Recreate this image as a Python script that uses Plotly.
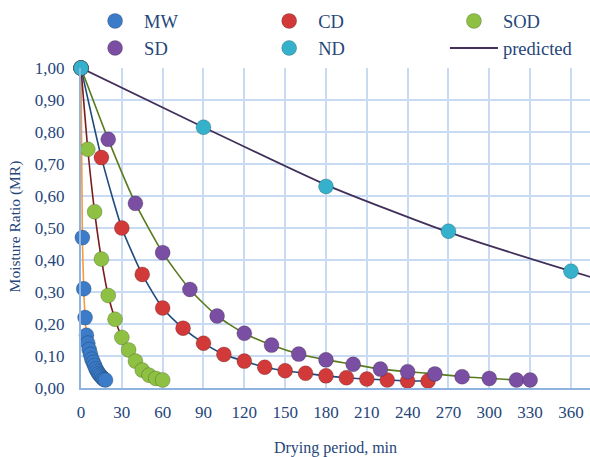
import plotly.graph_objects as go

# ---- data ----
mw_t = [0, 1, 2, 3, 4, 5, 6, 7, 8, 9, 10, 11, 12, 13, 14, 15, 16, 17, 18]
mw_mr = [1.0, 0.47, 0.31, 0.22, 0.165, 0.14, 0.12, 0.105, 0.09, 0.08, 0.07, 0.06,
         0.052, 0.045, 0.04, 0.035, 0.03, 0.027, 0.025]

cd_t = [0, 15, 30, 45, 60, 75, 90, 105, 120, 135, 150, 165, 180, 195, 210, 225, 240, 255]
cd_mr = [1.0, 0.72, 0.50, 0.355, 0.25, 0.187, 0.14, 0.105, 0.084, 0.065, 0.054, 0.046,
         0.038, 0.032, 0.028, 0.025, 0.022, 0.022]

sod_t = [0, 5, 10, 15, 20, 25, 30, 35, 40, 45, 50, 55, 60]
sod_mr = [1.0, 0.746, 0.551, 0.403, 0.289, 0.215, 0.158, 0.119, 0.084, 0.056, 0.04,
          0.03, 0.025]

sd_t = [0, 20, 40, 60, 80, 100, 120, 140, 160, 180, 200, 220, 240, 260, 280, 300, 320, 330]
sd_mr = [1.0, 0.777, 0.577, 0.423, 0.308, 0.225, 0.171, 0.134, 0.106, 0.088, 0.074,
         0.059, 0.051, 0.044, 0.035, 0.030, 0.025, 0.025]

nd_t = [0, 90, 180, 270, 360]
nd_mr = [1.0, 0.815, 0.63, 0.49, 0.365]

nd_pred_t = [0, 90, 180, 270, 360, 376]
nd_pred_mr = [1.0, 0.815, 0.635, 0.487, 0.365, 0.345]

x_ticks = [0, 30, 60, 90, 120, 150, 180, 210, 240, 270, 300, 330, 360]
y_ticks = [0.0, 0.1, 0.2, 0.3, 0.4, 0.5, 0.6, 0.7, 0.8, 0.9, 1.0]
y_ticktext = ["0,00", "0,10", "0,20", "0,30", "0,40", "0,50", "0,60", "0,70",
              "0,80", "0,90", "1,00"]

# ---- styles ----
FONT = "Liberation Serif"
TXT = "#25467a"
GRID = "#c9dbf2"
AXIS = "#8fb3e0"

series = [
    ("MW", mw_t, mw_mr, "#3b7bc8", "#f59a3e", "legend", 1),
    ("CD", cd_t, cd_mr, "#d23a3a", "#1f4a7d", "legend2", 1),
    ("SOD", sod_t, sod_mr, "#8dc043", "#7a1c1c", "legend3", 1),
    ("SD", sd_t, sd_mr, "#7a4fa3", "#5a7a1e", "legend", 2),
]

fig = go.Figure()

# predicted lines (no legend)
for name, t, mr, mcol, lcol, lg, rk in series:
    fig.add_trace(go.Scatter(x=t, y=mr, mode="lines",
                             line=dict(color=lcol, width=1.6, shape="spline", smoothing=0.6),
                             showlegend=False, hoverinfo="skip"))
fig.add_trace(go.Scatter(x=nd_pred_t, y=nd_pred_mr, mode="lines", name="predicted",
                         line=dict(color="#41305a", width=1.8, shape="spline", smoothing=0.6),
                         legend="legend3", legendrank=2))

all_series = series + [("ND", nd_t, nd_mr, "#35b1cc", None, "legend2", 2)]
for name, t, mr, mcol, lcol, lg, rk in all_series:
    fig.add_trace(go.Scatter(x=t, y=mr, mode="markers", name=name, legend=lg, legendrank=rk,
                             marker=dict(size=15, color=mcol,
                                         line=dict(width=0.7, color="rgba(0,0,0,0.28)")),
                             cliponaxis=False))

leg_common = dict(orientation="v", xanchor="left", yanchor="top", y=1.205,
                  font=dict(family=FONT, color=TXT, size=18.5),
                  itemwidth=48, tracegroupgap=0, bgcolor="rgba(0,0,0,0)")

fig.update_layout(
    width=590, height=457,
    margin=dict(l=81, r=0, t=68, b=69, autoexpand=False),
    paper_bgcolor="white", plot_bgcolor="white",
    font=dict(family=FONT, color=TXT, size=17),
    showlegend=True,
    legend=dict(x=0.01, **leg_common),
    legend2=dict(x=0.352, **leg_common),
    legend3=dict(x=0.715, **leg_common),
    xaxis=dict(range=[0, 374], tickvals=x_ticks, ticktext=[str(v) for v in x_ticks],
               showgrid=True, gridcolor=GRID, gridwidth=2,
               showline=True, linecolor=AXIS, linewidth=2, zeroline=False,
               ticks="", ticklabelstandoff=8, tickfont=dict(family=FONT, size=17, color=TXT),
               title=dict(text="Drying period, min", font=dict(family=FONT, size=16, color=TXT), standoff=20)),
    yaxis=dict(range=[0, 1.0], tickvals=y_ticks, ticktext=y_ticktext,
               showgrid=True, gridcolor=GRID, gridwidth=2,
               showline=True, linecolor=AXIS, linewidth=2, zeroline=False,
               ticks="", ticklabelstandoff=11, tickfont=dict(family=FONT, size=17, color=TXT)),
    annotations=[dict(text="Moisture Ratio (MR)", textangle=-90, showarrow=False,
                      xref="paper", yref="paper", x=-0.1297, y=0.505,
                      xanchor="center", yanchor="middle",
                      font=dict(family=FONT, size=15.5, color=TXT))],
)

fig.write_html("out.html")
